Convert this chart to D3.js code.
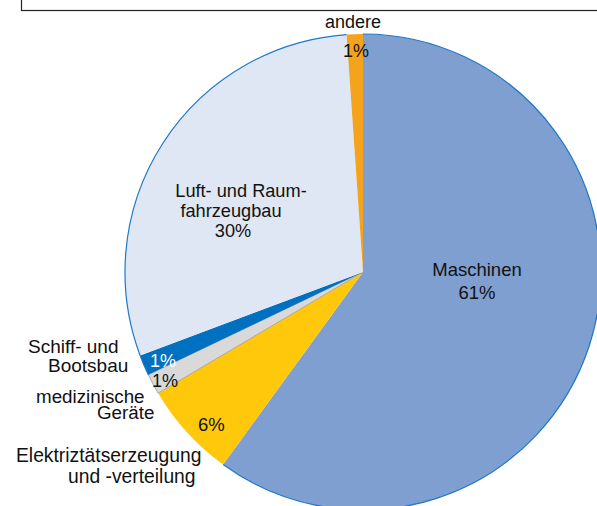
<!DOCTYPE html>
<html>
<head>
<meta charset="utf-8">
<script src="https://cdn.jsdelivr.net/npm/d3@7"></script>
<style>
  body { margin: 0; background: #fff; }
  svg { display: block; font-family: "Liberation Sans", Arial, sans-serif; }
</style>
</head>
<body>
<div id="chart"></div>
<script>
// slice data, clockwise from 12 o'clock
var categories = ["Maschinen", "Elektriztätserzeugung und -verteilung", "medizinische Geräte",
                  "Schiff- und Bootsbau", "Luft- und Raumfahrzeugbau", "andere"];
var shares = [60.0, 6.5, 1.4, 1.4, 29.6, 1.1];
var pctLabels = ["61%", "6%", "1%", "1%", "30%", "1%"];

var width = 597, height = 506;
var cx = 363, cy = 272, radius = 238;

var colors = ["#7f9fd1", "#ffc80b", "#d9d9d9", "#0070c0", "#dfe7f4", "#f5a31c"];
var edge = ["#1f78c8", null, null, "#1f78c8", "#1f78c8", null];

var svg = d3.select("#chart").append("svg")
    .attr("width", width)
    .attr("height", height);

// frame of the element above the chart
svg.append("rect")
    .attr("x", 21.5).attr("y", -20)
    .attr("width", 600).attr("height", 30.5)
    .attr("fill", "none")
    .attr("stroke", "#222")
    .attr("stroke-width", 1.2);

var pie = d3.pie().sort(null).value(function(d) { return d; });
var arcs = pie(shares);

var arc = d3.arc().innerRadius(0).outerRadius(radius);
var rim = d3.arc().innerRadius(radius).outerRadius(radius);

var g = svg.append("g")
    .attr("transform", "translate(" + cx + "," + cy + ")");

g.selectAll("path.slice")
    .data(arcs)
    .enter().append("path")
    .attr("class", "slice")
    .attr("d", arc)
    .attr("fill", function(d, i) { return colors[i]; })
    .attr("stroke", function(d, i) { return i == 2 ? "#9a9a9a" : "none"; })
    .attr("stroke-width", 0.8);

g.selectAll("path.rim")
    .data(arcs.filter(function(d, i) { return edge[i]; }))
    .enter().append("path")
    .attr("class", "rim")
    .attr("d", rim)
    .attr("fill", "none")
    .attr("stroke", function(d) { return edge[d.index]; })
    .attr("stroke-width", 1.2);

// label lines: [text, x, y, anchor, size, colour]
var labels = [
  ["andere", 353, 28, "middle", 18],
  [pctLabels[5], 356, 57, "middle", 18],
  ["Maschinen", 477, 276, "middle", 18.5],
  [pctLabels[0], 477, 299, "middle", 18.5],
  ["Luft- und Raum-", 241, 197, "middle", 18.2],
  ["fahrzeugbau", 231, 217, "middle", 18.2],
  [pctLabels[4], 233, 237, "middle", 18.2],
  ["Schiff- und", 28, 353, "start", 19],
  ["Bootsbau", 48, 372, "start", 19],
  [pctLabels[3], 150, 367, "start", 18, "#fff"],
  [pctLabels[2], 152, 387, "start", 18],
  ["medizinische", 36, 402.5, "start", 18.8],
  ["Geräte", 97, 419, "start", 18.8],
  [pctLabels[1], 198, 431, "start", 18.5],
  ["Elektriztätserzeugung", 16, 462, "start", 19.3],
  ["und -verteilung", 68, 483, "start", 19.3]
];

svg.selectAll("text.lbl")
    .data(labels)
    .enter().append("text")
    .attr("class", "lbl")
    .attr("x", function(d) { return d[1]; })
    .attr("y", function(d) { return d[2]; })
    .attr("text-anchor", function(d) { return d[3]; })
    .attr("font-size", function(d) { return d[4] + "px"; })
    .attr("fill", function(d) { return d[5] || "#111"; })
    .text(function(d) { return d[0]; });
</script>
</body>
</html>
